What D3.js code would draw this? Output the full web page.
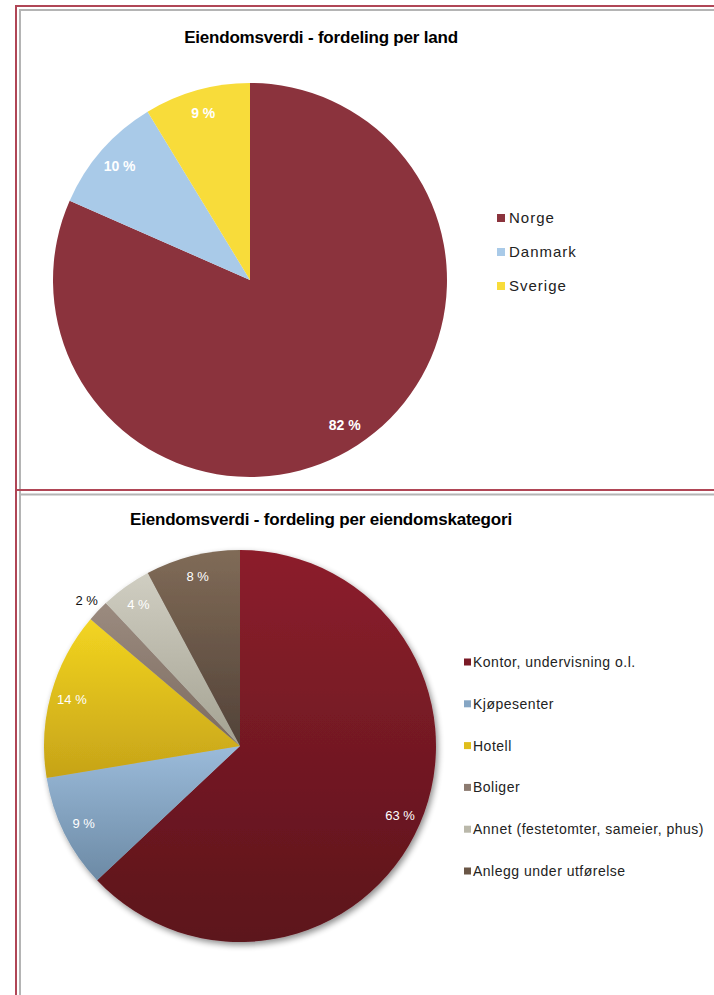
<!DOCTYPE html>
<html><head><meta charset="utf-8">
<script src="https://cdn.jsdelivr.net/npm/d3@7"></script>
<style>
html,body{margin:0;padding:0;background:#fff;}
svg{display:block;font-family:"Liberation Sans",Arial,sans-serif;}
</style></head>
<body>
<svg id="c" width="714" height="995"></svg>
<script>
// ---- Data ----
const countryNames = ["Norge", "Danmark", "Sverige"];
const countryValues = [81.6, 9.7, 8.7];
const countryLabels = ["82 %", "10 %", "9 %"];
const countryColors = ["#8B333D", "#A9CAE8", "#F8DC3A"];

const catNames = ["Kontor, undervisning o.l.", "Kjøpesenter", "Hotell", "Boliger", "Annet (festetomter, sameier, phus)", "Anlegg under utførelse"];
const catValues = [63.0, 9.4, 13.8, 1.8, 4.2, 7.8];
const catLabels = ["63 %", "9 %", "14 %", "2 %", "4 %", "8 %"];
const catTop = ["#8C1F2C", "#9BBBDA", "#F3D521", "#9B8B7F", "#D0CEC2", "#806B57"];
const catBottom = ["#5C131B", "#6C8AA5", "#C6A318", "#7C6B60", "#A4A292", "#524238"];
const catMid = ["#7A1A26", "#86A6C4", "#E0BE1C", "#8C7B70", "#BAB8AA", "#6A5646"];

const svg = d3.select("#c");
const defs = svg.append("defs");

// ---- Panel borders ----
const red = "#B04656", gray = "#B4B4B4";
svg.append("rect").attr("x", 16).attr("y", 6).attr("width", 720).attr("height", 1000).attr("fill", "none").attr("stroke", red).attr("stroke-width", 2);
svg.append("rect").attr("x", 20).attr("y", 10).attr("width", 720).attr("height", 1000).attr("fill", "none").attr("stroke", gray).attr("stroke-width", 2);
svg.append("line").attr("x1", 16).attr("x2", 714).attr("y1", 490).attr("y2", 490).attr("stroke", red).attr("stroke-width", 2);
svg.append("line").attr("x1", 20).attr("x2", 714).attr("y1", 494.5).attr("y2", 494.5).attr("stroke", gray).attr("stroke-width", 2);

// ---- Top chart ----
const pie = d3.pie().sort(null).value(d => d);

svg.append("text").attr("x", 321).attr("y", 43).attr("text-anchor", "middle")
  .attr("font-size", 17).attr("font-weight", "bold").attr("letter-spacing", -0.2).attr("fill", "#000")
  .text("Eiendomsverdi - fordeling per land");

const r1 = 197;
const g1 = svg.append("g").attr("transform", "translate(250,280)");
const arc1 = d3.arc().innerRadius(0).outerRadius(r1);
const arcs1 = pie(countryValues);
g1.selectAll("path").data(arcs1).join("path")
  .attr("d", arc1).attr("fill", (d, i) => countryColors[i]);
const lab1 = d3.arc().innerRadius(r1 * 0.88).outerRadius(r1 * 0.88);
g1.selectAll("text").data(arcs1).join("text")
  .attr("transform", d => `translate(${lab1.centroid(d)})`)
  .attr("text-anchor", "middle").attr("dy", "0.35em")
  .attr("font-size", 14).attr("font-weight", "bold").attr("fill", "#fff")
  .text((d, i) => countryLabels[i]);

const leg1 = svg.append("g");
const legY1 = d3.scalePoint().domain(countryNames).range([218, 286]);
countryNames.forEach((n, i) => {
  leg1.append("rect").attr("x", 497).attr("y", legY1(n) - 4).attr("width", 8).attr("height", 8).attr("fill", countryColors[i]);
  leg1.append("text").attr("x", 509).attr("y", legY1(n)).attr("dy", "0.36em")
    .attr("font-size", 15).attr("letter-spacing", 1).attr("fill", "#222").text(n);
});

// ---- Bottom chart ----
svg.append("text").attr("x", 321).attr("y", 525).attr("text-anchor", "middle")
  .attr("font-size", 17).attr("font-weight", "bold").attr("letter-spacing", -0.2).attr("fill", "#000")
  .text("Eiendomsverdi - fordeling per eiendomskategori");

const filt = defs.append("filter").attr("id", "shadow").attr("x", "-10%").attr("y", "-10%").attr("width", "125%").attr("height", "125%");
filt.append("feGaussianBlur").attr("in", "SourceAlpha").attr("stdDeviation", 3).attr("result", "b");
filt.append("feOffset").attr("in", "b").attr("dx", 2).attr("dy", 3).attr("result", "o");
filt.append("feComponentTransfer").attr("in", "o").attr("result", "s")
  .append("feFuncA").attr("type", "linear").attr("slope", 0.45);
const fm = filt.append("feMerge");
fm.append("feMergeNode").attr("in", "s");
fm.append("feMergeNode").attr("in", "SourceGraphic");

catNames.forEach((n, i) => {
  const lg = defs.append("linearGradient").attr("id", "g" + i).attr("x1", 0).attr("y1", 0).attr("x2", 0).attr("y2", 1);
  lg.append("stop").attr("offset", "0%").attr("stop-color", catTop[i]);
  lg.append("stop").attr("offset", "100%").attr("stop-color", catBottom[i]);
});

const r2 = 196;
const g2 = svg.append("g").attr("transform", "translate(240,746)");
const arc2 = d3.arc().innerRadius(0).outerRadius(r2);
const arcs2 = pie(catValues);
g2.append("g").attr("filter", "url(#shadow)")
  .selectAll("path").data(arcs2).join("path")
  .attr("d", arc2).attr("fill", (d, i) => `url(#g${i})`);
const lab2 = d3.arc().innerRadius(r2 * 0.89).outerRadius(r2 * 0.89);
const lab2out = d3.arc().innerRadius(r2 * 1.08).outerRadius(r2 * 1.08);
g2.selectAll("text").data(arcs2).join("text")
  .attr("transform", (d, i) => `translate(${(i === 3 ? lab2out : lab2).centroid(d)})`)
  .attr("text-anchor", "middle").attr("dy", "0.35em")
  .attr("font-size", 13).attr("fill", (d, i) => i === 3 ? "#111" : "#fff")
  .text((d, i) => catLabels[i]);

const leg2 = svg.append("g");
const legY2 = d3.scalePoint().domain(catNames).range([662, 871]);
catNames.forEach((n, i) => {
  leg2.append("rect").attr("x", 464).attr("y", legY2(n) - 3.5).attr("width", 7).attr("height", 7).attr("fill", catMid[i]);
  leg2.append("text").attr("x", 473).attr("y", legY2(n)).attr("dy", "0.36em")
    .attr("font-size", 14).attr("letter-spacing", 0.5).attr("fill", "#222").text(n);
});
</script>
</body></html>
